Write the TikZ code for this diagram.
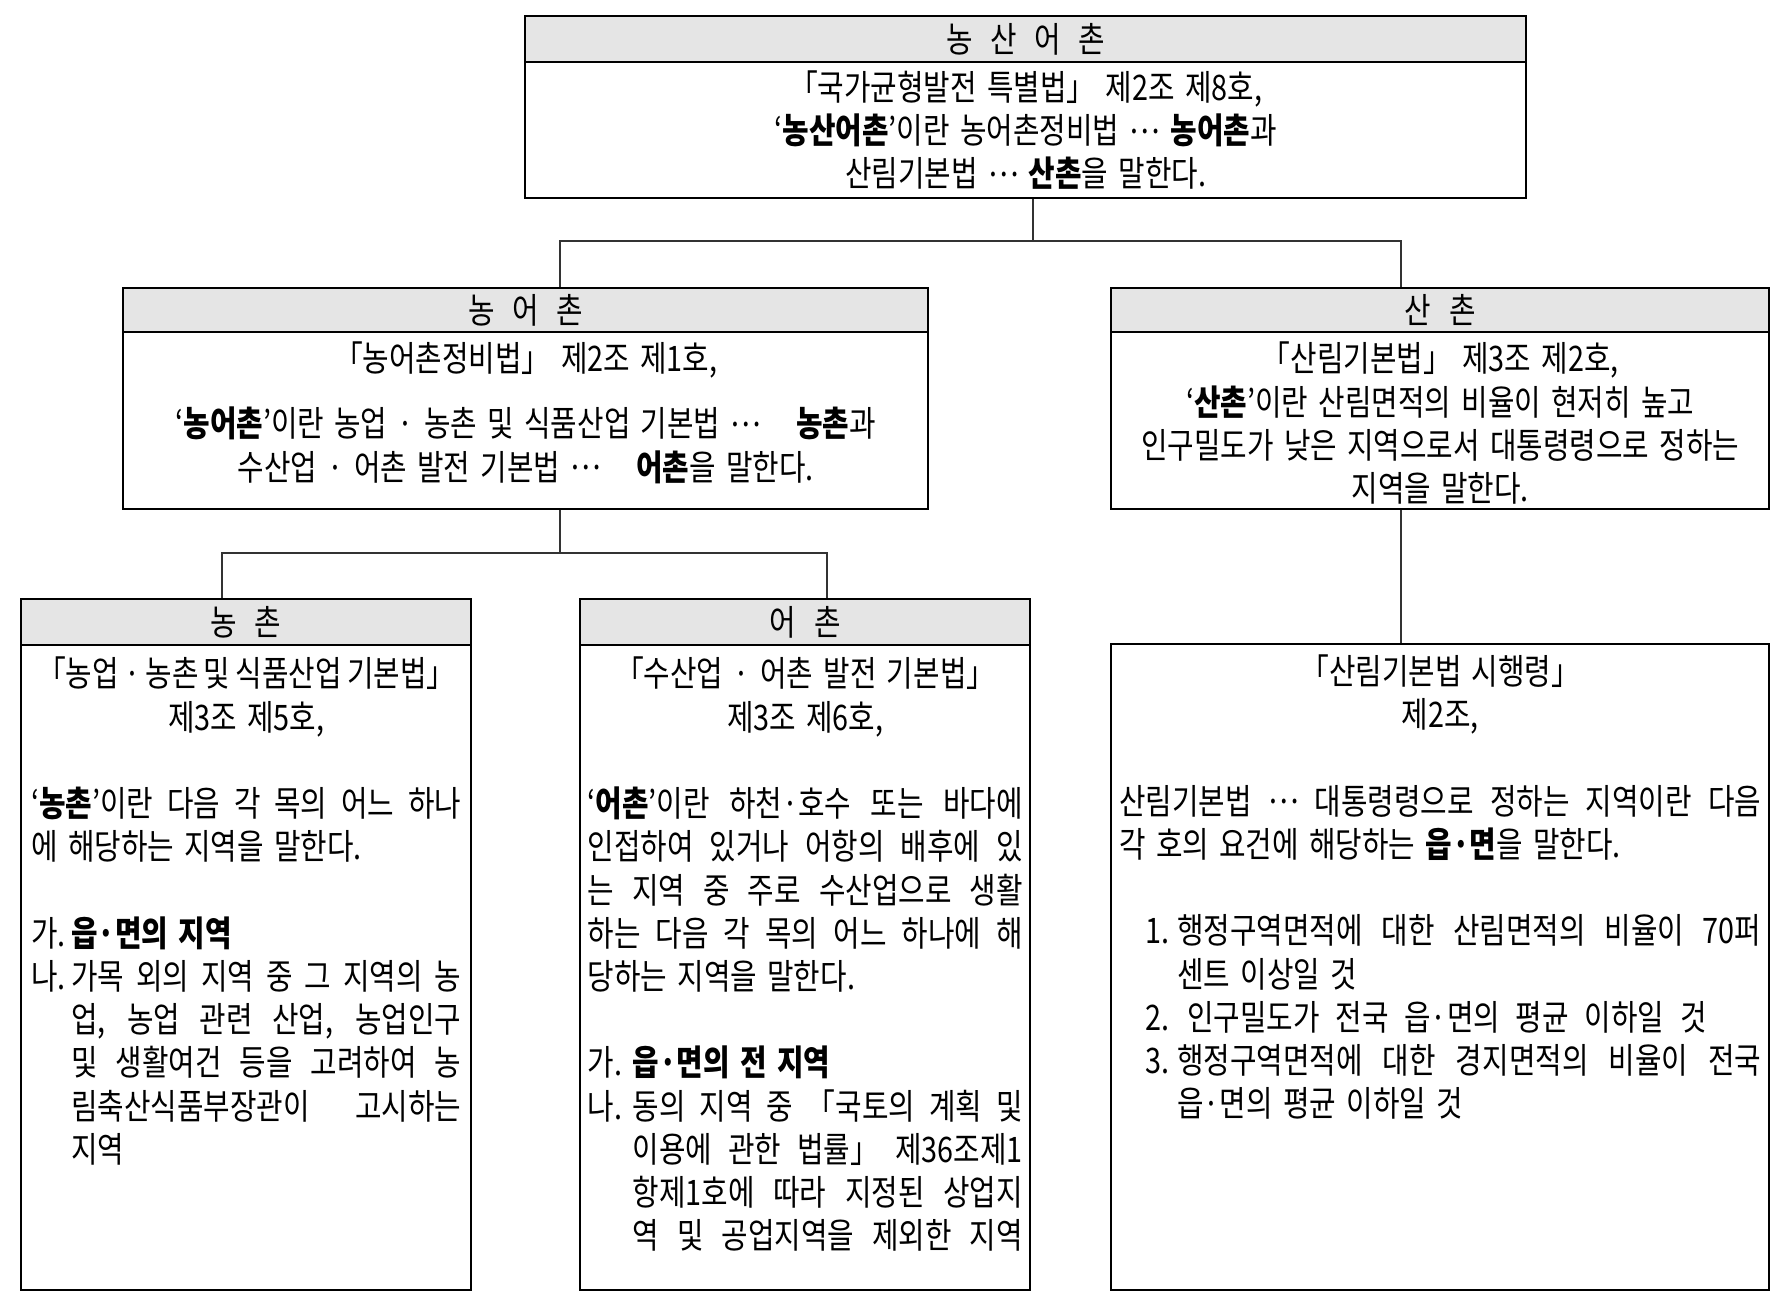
\documentclass[tikz,border=0pt]{standalone}
\usepackage{fontspec}
\setmainfont{Noto Sans CJK KR}[FakeStretch=0.82, WordSpace=1.6]
\usetikzlibrary{positioning}
\definecolor{headgray}{gray}{0.9}
\newcommand{\hgap}{\hspace{0.5em}}
\newcommand{\mdots}{\raisebox{0.3em}{…}}
\tikzset{
  box/.style={draw, line width=0.7pt, inner sep=0pt, anchor=north west},
  head/.style={draw, fill=headgray, line width=0.7pt, inner sep=0pt, anchor=north, minimum height=0.46cm},
  txt/.style={inner sep=0pt, font=\fontsize{10pt}{12.3pt}\selectfont},
  conn/.style={draw=black!80, line width=0.45pt}
}

\begin{document}
\begin{tikzpicture}
  \useasboundingbox (0,0) rectangle (17.87,-12.98);
  % frames
  \node[box, minimum width=10.01cm, minimum height=1.82cm] (topbox) at (5.24,-0.15) {};
  \node[box, minimum width=8.05cm, minimum height=2.21cm] (nongeochon) at (1.22,-2.87) {};
  \node[box, minimum width=6.58cm, minimum height=2.21cm] (sanchon) at (11.10,-2.87) {};
  \node[box, minimum width=4.50cm, minimum height=6.91cm] (nongchon) at (0.20,-5.98) {};
  \node[box, minimum width=4.50cm, minimum height=6.91cm] (eochon) at (5.79,-5.98) {};
  \node[box, minimum width=6.58cm, minimum height=6.46cm] (sigrang) at (11.10,-6.43) {};
  % headers
  \node[head, txt, minimum width=10.01cm] (tophead) at (topbox.north) {농\hgap 산\hgap 어\hgap 촌};
  \node[head, txt, minimum width=8.05cm, minimum height=0.44cm] (nongeochonhead) at (nongeochon.north) {농\hgap 어\hgap 촌};
  \node[head, txt, minimum width=6.58cm, minimum height=0.44cm] (sanchonhead) at (sanchon.north) {산\hgap 촌};
  \node[head, txt, minimum width=4.50cm] (nongchonhead) at (nongchon.north) {농\hgap 촌};
  \node[head, txt, minimum width=4.50cm] (eochonhead) at (eochon.north) {어\hgap 촌};
  % texts
  \node[txt, align=center] (toptext) at ([yshift=-0.23cm]topbox.center)
    {「국가균형발전 특별법」 제2조 제8호,\\
     ‘\textbf{농산어촌}’이란 농어촌정비법 \mdots{} \textbf{농어촌}과\\
     산림기본법 \mdots{} \textbf{산촌}을 말한다.};
  \node[txt, align=center] (nongeochontext) at ([yshift=-0.14cm]nongeochon.center)
    {「농어촌정비법」 제2조 제1호,\\[0.22cm]
     ‘\textbf{농어촌}’이란 농업 · 농촌 및 식품산업 기본법 \mdots\quad\textbf{농촌}과\\
     수산업 · 어촌 발전 기본법 \mdots\quad\textbf{어촌}을 말한다.};
  \node[txt, align=center] (sanchontext) at ([yshift=-0.245cm]sanchon.center)
    {「산림기본법」 제3조 제2호,\\
     ‘\textbf{산촌}’이란 산림면적의 비율이 현저히 높고\\
     인구밀도가 낮은 지역으로서 대통령령으로 정하는\\
     지역을 말한다.};
  \node[txt, text width=4.30cm, align=justify, below=0.10cm of nongchonhead] (nongchontext)
    {\parindent=0pt \hbadness=10000
     {\centering {\spaceskip=0.15em plus 0.1em minus 0.05em 「농업 · 농촌 및 식품산업 기본법」}\\제3조 제5호,\par}
     \vspace{\baselineskip}
     ‘\textbf{농촌}’이란 다음 각 목의 어느 하나\linebreak 에 해당하는 지역을 말한다.\par
     \vspace{\baselineskip}
     {\leftskip=0.4cm \parindent=-0.4cm
     \makebox[0.4cm][l]{가.}\textbf{읍·면의 지역}\par
     \makebox[0.4cm][l]{나.}가목 외의 지역 중 그 지역의 농\linebreak 업, 농업 관련 산업, 농업인구\linebreak 및 생활여건 등을 고려하여 농\linebreak 림축산식품부장관이 고시하는\linebreak 지역\par}};
  \node[txt, text width=4.35cm, align=justify, below=0.10cm of eochonhead] (eochontext)
    {\parindent=0pt \hbadness=10000
     {\centering 「수산업 · 어촌 발전 기본법」\\제3조 제6호,\par}
     \vspace{\baselineskip}
     ‘\textbf{어촌}’이란 하천·호수 또는 바다에\linebreak 인접하여 있거나 어항의 배후에 있\linebreak 는 지역 중 주로 수산업으로 생활\linebreak 하는 다음 각 목의 어느 하나에 해\linebreak 당하는 지역을 말한다.\par
     \vspace{\baselineskip}
     {\leftskip=0.45cm \parindent=-0.45cm
     \makebox[0.45cm][l]{가.}\textbf{읍·면의 전 지역}\par
     \parfillskip=0pt
     \makebox[0.45cm][l]{나.}동의 지역 중 「국토의 계획 및\linebreak 이용에 관한 법률」 제36조제1\linebreak 항제1호에 따라 지정된 상업지\linebreak 역 및 공업지역을 제외한 지역\par}};
  \node[txt, text width=6.42cm, align=justify, below=0.11cm of sigrang.north] (sigrangtext)
    {\parindent=0pt \hbadness=10000
     {\centering 「산림기본법 시행령」\\제2조,\par}
     \vspace{\baselineskip}
     산림기본법 \mdots{} 대통령령으로 정하는 지역이란 다음\linebreak 각 호의 요건에 해당하는 \textbf{읍·면}을 말한다.\par
     \vspace{\baselineskip}
     {\leftskip=0.58cm \parindent=-0.32cm
     \makebox[0.32cm][l]{1.}행정구역면적에 대한 산림면적의 비율이 70퍼\linebreak 센트 이상일 것\par
     {\spaceskip=0.45em plus 0.1em minus 0.1em \makebox[0.32cm][l]{2.}\hspace{0.1cm}인구밀도가 전국 읍·면의 평균 이하일 것\par}
     \makebox[0.32cm][l]{3.}행정구역면적에 대한 경지면적의 비율이 전국\linebreak 읍·면의 평균 이하일 것\par}};
  % connectors
  \coordinate (topjoin) at (10.33,-2.41);
  \coordinate (midjoin) at (5.60,-5.53);
  \coordinate (ldrop) at (2.22,0);
  \coordinate (rdrop) at (8.27,0);
  \coordinate (sdrop) at (14.01,0);
  \draw[conn] (topbox.south -| topjoin) -- (topjoin);
  \draw[conn] (nongeochon.north -| midjoin) |- (topjoin) -| (sanchon.north -| sdrop);
  \draw[conn] (nongeochon.south -| midjoin) -- (midjoin);
  \draw[conn] (nongchon.north -| ldrop) |- (midjoin) -| (eochon.north -| rdrop);
  \draw[conn] (sanchon.south -| sdrop) -- (sigrang.north -| sdrop);
\end{tikzpicture}
\end{document}
